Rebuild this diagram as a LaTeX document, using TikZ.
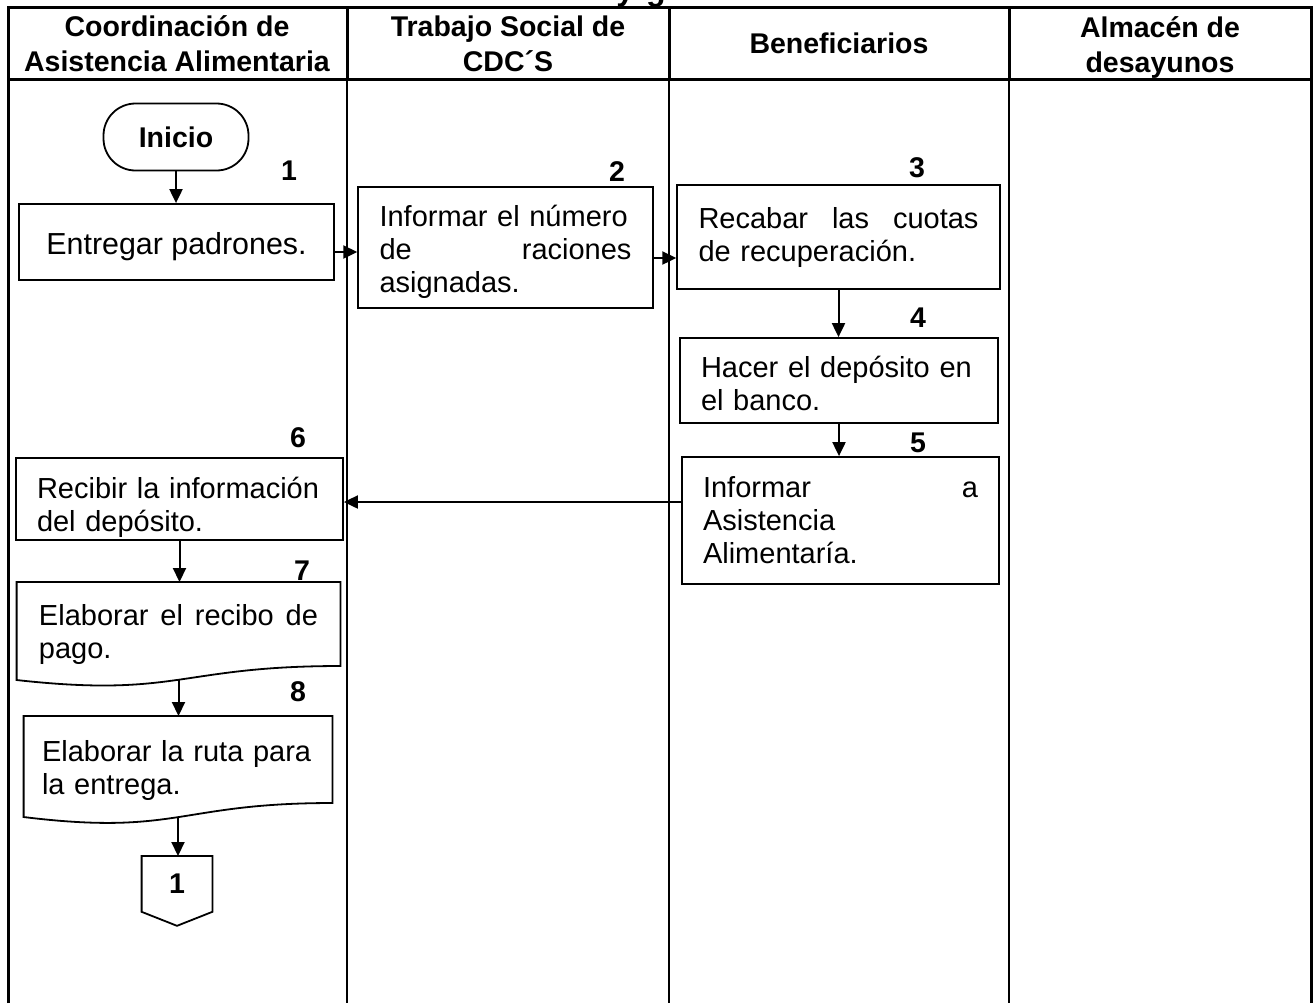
\documentclass[tikz,border=0pt]{standalone}
\usepackage{fontspec}
\setmainfont{Liberation Sans}
\usetikzlibrary{calc,arrows.meta}
\begin{document}
\begin{tikzpicture}[x=0.5pt,y=-0.5pt,
  thickline/.style={line width=1.5pt},
  thinline/.style={line width=0.75pt},
  box/.style={draw, line width=0.9pt, align=left, inner ysep=0pt,
     font=\fontsize{14.5pt}{16.5pt}\selectfont},
  lightbox/.style={box, line width=0.7pt},
  docbox/.style={draw=none, align=left, inner ysep=0pt, anchor=north,
     font=\fontsize{14.5pt}{16.5pt}\selectfont},
  docline/.style={line width=0.9pt},
  hdr/.style={align=center, inner sep=0pt, font=\bfseries\fontsize{14.25pt}{17.5pt}\selectfont},
  num/.style={inner sep=0pt, font=\bfseries\fontsize{14.25pt}{17pt}\selectfont},
  arr/.style={line width=1pt, -{Triangle[length=7pt,width=6.5pt]}},
]
\useasboundingbox (0,0) rectangle (1315,1003);

% clipped title fragment
\begin{scope}
\clip (0,0) rectangle (1315,1003);
\node[anchor=base west, inner sep=0pt, font=\bfseries\fontsize{16pt}{18pt}\selectfont] (title) at (616,0) {y\hspace{6pt}g};
\end{scope}

% table frame
\draw[thickline] (8,1003) -- (8,7) -- (1311,7) -- (1311,1003);
\draw[thickline] (8,79) -- (1311,79);
\draw[thickline] (347,7) -- (347,79);
\draw[thickline] (669,7) -- (669,79);
\draw[thickline] (1009,7) -- (1009,79);
\draw[thinline] (347,79) -- (347,1003);
\draw[thinline] (669,79) -- (669,1003);
\draw[thinline] (1009,79) -- (1009,1003);

% headers
\node[hdr] (h1) at (177,44) {Coordinación de\\Asistencia Alimentaria};
\node[hdr] (h2) at (508,44) {Trabajo Social de\\CDC´S};
\node[hdr] (h3) at (839,43.5) {Beneficiarios};
\node[hdr] (h4) at (1160,47) {Almacén de\\desayunos};

% start
\node[draw, line width=0.9pt, rounded corners=16pt, minimum width=72.5pt, minimum height=33.5pt,
  inner sep=0pt, font=\bfseries\fontsize{14.25pt}{17pt}\selectfont] (inicio) at (176,137) {Inicio};

% process boxes
\node[box, align=center, minimum width=157.5pt, minimum height=38pt,
  font=\fontsize{15.2pt}{17pt}\selectfont] (b1) at (176.5,242)
  {\rule{0pt}{16pt}Entregar padrones.};
\node[lightbox, text width=126pt, inner xsep=10.75pt, minimum height=60.5pt] (b2) at (505.5,247.5)
  {\rule{0pt}{14.6pt}Informar el número\\de\hfill raciones\\asignadas.};
\node[lightbox, text width=140pt, inner xsep=10.75pt, minimum height=52pt] (b3) at (838.5,237)
  {Recabar\hfill las\hfill cuotas\\de recuperación.};
\node[box, text width=138pt, inner xsep=10.5pt, minimum height=42.5pt] (b4) at (839,380.5)
  {\rule{0pt}{13.6pt}Hacer el depósito en\\el banco.};
\node[box, text width=137.5pt, inner xsep=10.5pt, minimum height=63.5pt] (b5) at (840.5,520.5)
  {Informar\hfill a\\Asistencia\\Alimentaría.};
\node[box, text width=142.5pt, inner xsep=10.5pt, minimum height=41pt] (b6) at (179.5,499)
  {\rule{0pt}{18.6pt}Recibir la información\\del depósito.};

% document shapes
\node[docbox, text width=139.5pt, inner xsep=11pt, minimum height=52.5pt] (d7) at (178.5,582)
  {Elaborar\hfill el\hfill recibo\hfill de\\pago.};
\draw[docline] (d7.north west) -- (d7.north east) -- ($(d7.north east)+(0,84)$)
  .. controls ($(d7.north)+(0,84)$) and ($(d7.north)+(0,116)$) .. ($(d7.north west)+(0,98)$) -- cycle;

\node[docbox, text width=136pt, inner xsep=9pt, minimum height=54pt] (d8) at (178,716)
  {Elaborar la ruta para\\la entrega.};
\draw[docline] (d8.north west) -- (d8.north east) -- ($(d8.north east)+(0,87)$)
  .. controls ($(d8.north)+(0,87)$) and ($(d8.north)+(0,120)$) .. ($(d8.north west)+(0,101)$) -- cycle;

% off-page connector
\node[draw=none, minimum width=35pt, minimum height=27.5pt, inner sep=0pt, anchor=north,
  font=\bfseries\fontsize{14.25pt}{17pt}\selectfont] (c1) at (177,856) {1};
\draw[docline] (c1.north west) -- (c1.north east) -- (c1.south east) -- ($(c1.south)+(0,14)$)
  -- (c1.south west) -- cycle;

% step numbers
\node[num] (n1) at (289,171) {1};
\node[num] (n2) at (617,172) {2};
\node[num] (n3) at (917,168) {3};
\node[num] (n4) at (918,318) {4};
\node[num] (n5) at (918,443) {5};
\node[num] (n6) at (298,438) {6};
\node[num] (n7) at (302,571) {7};
\node[num] (n8) at (298,692) {8};

% connectors
\draw[arr] (inicio.south) -- (inicio.south |- b1.north);
\coordinate (a12) at ($(b1.east)+(0,10)$);
\draw[arr] (a12) -- (a12 -| b2.west);
\coordinate (a23) at ($(b2.east)+(0,10.5)$);
\draw[arr] (a23) -- (a23 -| b3.west);
\draw[arr] (b3.south) -- (b3.south |- b4.north);
\draw[arr] (b4.south) -- (b4.south |- b5.north);
\coordinate (a56) at ($(b5.west)+(0,-18.5)$);
\draw[arr] (a56) -- (a56 -| b6.east);
\draw[arr] (b6.south) -- (b6.south |- d7.north);
\coordinate (a78) at ($(d7.north)+(0,98)$);
\draw[arr] (a78) -- (a78 |- d8.north);
\coordinate (a8c) at ($(d8.north)+(0,101)$);
\draw[arr] (a8c) -- (a8c |- c1.north);
\end{tikzpicture}
\end{document}
